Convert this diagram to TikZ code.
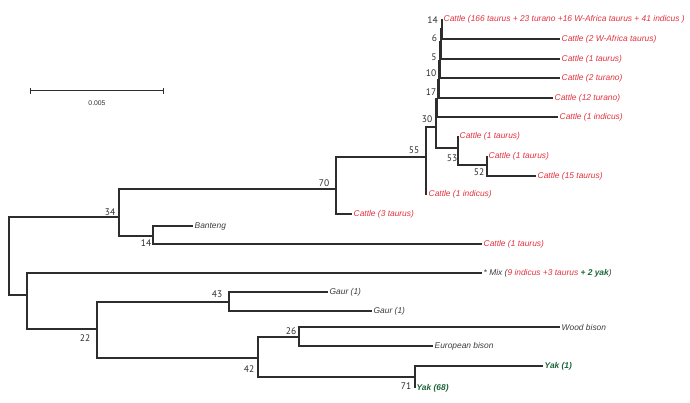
\documentclass[tikz,border=0pt]{standalone}
\usepackage{fontspec}
\setmainfont{Liberation Sans}
\newfontfamily\numfont{PT Sans}
\usetikzlibrary{calc}
\definecolor{cattle}{RGB}{226,50,62}
\definecolor{yakgreen}{RGB}{28,100,58}
\definecolor{branch}{RGB}{45,45,45}
\definecolor{taxon}{RGB}{60,60,60}
\tikzset{
	br/.style={draw=branch,line width=1.2pt},
	leaf/.style={anchor=west,inner sep=1.5pt,font=\fontsize{8.4}{9}\selectfont\itshape,text=taxon},
	cow/.style={leaf,text=cattle},
	yak/.style={leaf,text=yakgreen,font=\fontsize{8.4}{9}\selectfont\itshape\bfseries},
	boot/.style={inner sep=0pt,font=\numfont\fontsize{9.5}{10}\selectfont,text=branch}
}

\begin{document}
\begin{tikzpicture}[x=1pt,y=-1pt]
		\useasboundingbox (0,0) rectangle (690,403);
		\draw[br,line width=1pt] (30,91) -- (163,91);
		\draw[br,line width=1pt] (30,88) -- (30,94);
		\draw[br,line width=1pt] (163,88) -- (163,94);
		\node[boot,font=\fontsize{6.8}{7}\selectfont] (scale) at (97,103) {0.005};
		\coordinate (r) at (9,256);
		\coordinate (n34) at (119,217);
		\coordinate (n70) at (336,189);
		\coordinate (n55) at (426,157);
		\coordinate (n30) at (436,127);
		\coordinate (n17) at (437.5,99);
		\coordinate (n10) at (439,80);
		\coordinate (n5) at (440,61);
		\coordinate (n6) at (441,42);
		\coordinate (n14) at (442,29);
		\coordinate (n53) at (458,148);
		\coordinate (n52) at (487,165);
		\coordinate (n14b) at (153,236);
		\coordinate (nx) at (27,295);
		\coordinate (n22) at (97,329);
		\coordinate (n43) at (229,302);
		\coordinate (n42) at (258,358);
		\coordinate (n26) at (299,337);
		\coordinate (n71) at (415,377);
		\node[cow] (c166) at (442,19) {Cattle (166 taurus + 23 turano +16 W-Africa taurus + 41 indicus )};
		\node[cow] (c2wa) at (560,39) {Cattle (2 W-Africa taurus)};
		\node[cow] (c1t) at (560,59) {Cattle (1 taurus)};
		\node[cow] (c2tur) at (560,78) {Cattle (2 turano)};
		\node[cow] (c12tur) at (553,98) {Cattle (12 turano)};
		\node[cow] (c1ind) at (558,117) {Cattle (1 indicus)};
		\node[cow] (c1ta) at (458,136) {Cattle (1 taurus)};
		\node[cow] (c1tb) at (487,156) {Cattle (1 taurus)};
		\node[cow] (c15t) at (536,176) {Cattle (15 taurus)};
		\node[cow] (c1indb) at (427,194) {Cattle (1 indicus)};
		\node[cow] (c3t) at (352,214) {Cattle (3 taurus)};
		\node[leaf] (banteng) at (193,226) {Banteng};
		\node[cow] (c1tc) at (482,244) {Cattle (1 taurus)};
		\node[leaf] (mix) at (482,273) {* Mix (\textcolor{cattle}{9 indicus +3 taurus} \textcolor{yakgreen}{\bfseries + 2 yak})};
		\node[leaf] (gaur1) at (328,292) {Gaur (1)};
		\node[leaf] (gaur2) at (372,311) {Gaur (1)};
		\node[leaf] (wood) at (560,327) {Wood bison};
		\node[leaf] (euro) at (433,346) {European bison};
		\node[yak] (yak1) at (543,366) {Yak (1)};
		\node[yak] (yak68) at (415,388) {Yak (68)};
		\draw[br] (r) |- (n34);
		\draw[br] (r) |- (nx);
		\draw[br] (n34) |- (n70);
		\draw[br] (n34) |- (n14b);
		\draw[br] (n70) |- (n55);
		\draw[br] (n70) |- (c3t.west);
		\draw[br] (n55) |- (n30);
		\draw[br] (n55) |- (c1indb.west);
		\draw[br] (n30) |- (n17);
		\draw[br] (n30) |- (n53);
		\draw[br] (n17) |- (n10);
		\draw[br] (n17) |- (c1ind.west);
		\draw[br] (n10) |- (n5);
		\draw[br] (n10) |- (c12tur.west);
		\draw[br] (n5) |- (n6);
		\draw[br] (n5) |- (c2tur.west);
		\draw[br] (n6) |- (n14);
		\draw[br] (n6) |- (c1t.west);
		\draw[br] (n14) |- (c166.west);
		\draw[br] (n14) |- (c2wa.west);
		\draw[br] (n53) |- (c1ta.west);
		\draw[br] (n53) |- (n52);
		\draw[br] (n52) |- (c1tb.west);
		\draw[br] (n52) |- (c15t.west);
		\draw[br] (n14b) |- (banteng.west);
		\draw[br] (n14b) |- (c1tc.west);
		\draw[br] (nx) |- (mix.west);
		\draw[br] (nx) |- (n22);
		\draw[br] (n22) |- (n43);
		\draw[br] (n22) |- (n42);
		\draw[br] (n43) |- (gaur1.west);
		\draw[br] (n43) |- (gaur2.west);
		\draw[br] (n42) |- (n26);
		\draw[br] (n42) |- (n71);
		\draw[br] (n26) |- (wood.west);
		\draw[br] (n26) |- (euro.west);
		\draw[br] (n71) |- (yak1.west);
		\draw[br] (n71) |- (yak68.west);
		\node[boot] (b14) at (432.5,20) {14};
		\node[boot] (b6) at (434.5,38) {6};
		\node[boot] (b5) at (434,57) {5};
		\node[boot] (b10) at (431,73) {10};
		\node[boot] (b17) at (431,92) {17};
		\node[boot] (b30) at (427,119) {30};
		\node[boot] (b55) at (414,150) {55};
		\node[boot] (b70) at (324,183) {70};
		\node[boot] (b34) at (110,212) {34};
		\node[boot] (b14b) at (146,243) {14};
		\node[boot] (b53) at (452,158) {53};
		\node[boot] (b52) at (479,172) {52};
		\node[boot] (b43) at (217,294) {43};
		\node[boot] (b22) at (85,338) {22};
		\node[boot] (b26) at (291,331) {26};
		\node[boot] (b42) at (249,369) {42};
		\node[boot] (b71) at (406,386) {71};
	\end{tikzpicture}
\end{document}
